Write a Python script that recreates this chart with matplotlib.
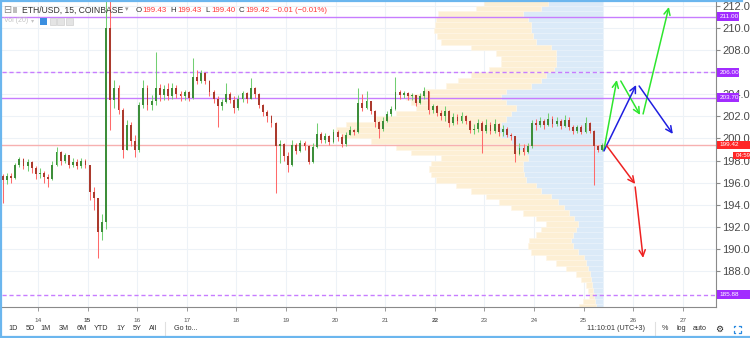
import numpy as np
import matplotlib
matplotlib.use("Agg")
import matplotlib.pyplot as plt
from matplotlib.transforms import blended_transform_factory
from matplotlib.patches import Rectangle
from matplotlib.lines import Line2D

plt.rcParams['font.family'] = ['Liberation Sans', 'DejaVu Sans']

# ---------------- data ----------------
start_day = 13.29          # first 2-hour bar (day of month, Oct)
bar_step = 1 / 12          # 2 hours in days
open_first = 196.6

closes = [196.2, 196.6, 196.4, 197.6, 198.1, 197.5, 197.9, 197.3, 196.8, 196.9,
          196.5, 196.3, 197.6, 198.8, 198.0, 198.5, 197.6, 197.9, 197.5, 198.0,
          197.6, 195.2, 194.6, 191.5, 192.4, 210.0, 203.5, 204.6, 202.6, 199.0,
          201.2, 199.8, 199.0, 203.0, 204.6, 203.0, 203.4, 204.6, 203.9, 204.5,
          203.8, 204.6, 204.0, 203.8, 204.2, 203.7, 205.6, 205.2, 205.9, 205.2,
          204.2, 203.6, 202.9, 203.3, 204.0, 203.5, 202.8, 203.6, 204.1, 203.6,
          204.6, 204.0, 203.0, 202.4, 202.0, 201.4, 199.3, 199.5, 198.4, 197.6,
          199.4, 198.9, 199.6, 199.3, 197.9, 199.2, 200.4, 199.9, 200.2, 199.7,
          200.6, 200.1, 199.5, 200.3, 200.8, 200.6, 203.2, 202.8, 203.4, 202.5,
          201.5, 200.9, 201.6, 202.2, 202.7, 204.2, 203.9, 204.1, 203.8, 203.9,
          203.2, 203.8, 204.3, 202.6, 202.9, 202.3, 202.0, 202.5, 201.4, 201.9,
          201.6, 202.0, 201.6, 200.8, 200.9, 201.4, 200.7, 201.2, 200.7, 201.3,
          200.6, 200.9, 200.3, 200.2, 198.6, 199.1, 198.8, 199.3, 201.4, 201.2,
          201.6, 201.2, 201.8, 201.3, 201.6, 201.1, 201.7, 201.0, 200.7, 201.0,
          200.6, 201.4, 200.7, 199.3, 199.0, 199.42]
highs = [196.8, 196.9, 196.9, 197.8, 198.3, 198.2, 198.1, 198.0, 197.5, 197.3,
         197.1, 196.8, 198.0, 199.2, 198.9, 198.7, 198.4, 198.2, 198.1, 198.2,
         198.1, 197.6, 195.6, 194.6, 193.2, 214.5, 213.5, 205.3, 204.8, 202.8,
         201.7, 201.5, 200.3, 203.3, 205.3, 204.8, 203.9, 207.8, 204.9, 204.8,
         205.0, 205.0, 204.8, 204.3, 204.4, 204.3, 207.3, 206.2, 206.2, 206.0,
         205.3, 204.4, 203.8, 203.6, 205.0, 204.2, 203.8, 203.9, 204.3, 204.2,
         205.5, 204.7, 204.1, 203.1, 202.6, 202.1, 201.5, 199.9, 199.6, 198.8,
         199.9, 199.6, 199.9, 199.8, 199.4, 199.6, 201.4, 200.6, 200.5, 200.3,
         200.9, 200.8, 200.4, 200.6, 201.1, 200.9, 204.6, 204.0, 204.3, 203.4,
         202.6, 201.6, 201.9, 202.5, 202.9, 205.6, 204.4, 204.3, 204.2, 204.1,
         203.9, 204.1, 204.7, 204.3, 203.1, 203.0, 202.6, 202.9, 202.6, 202.3,
         202.2, 202.4, 202.1, 201.7, 201.3, 201.8, 201.6, 201.8, 201.5, 201.8,
         201.4, 201.2, 201.0, 200.5, 200.2, 199.6, 199.5, 199.6, 201.7, 201.8,
         201.9, 201.8, 202.3, 202.0, 201.9, 201.8, 202.1, 201.9, 201.2, 201.2,
         201.2, 201.9, 201.5, 200.8, 199.4, 199.6]
lows = [194.2, 195.9, 196.0, 196.3, 197.4, 197.2, 197.1, 196.9, 196.3, 196.4,
        196.0, 195.6, 196.2, 197.5, 197.6, 197.8, 197.3, 197.4, 197.2, 197.3,
        197.3, 194.4, 193.5, 189.2, 190.8, 191.8, 200.8, 202.8, 202.2, 198.2,
        199.0, 199.3, 198.3, 198.8, 202.8, 202.6, 202.6, 203.0, 203.4, 203.5,
        203.5, 203.6, 203.7, 203.4, 203.5, 203.4, 203.6, 204.9, 205.0, 204.9,
        203.8, 203.2, 201.0, 202.6, 203.2, 203.2, 202.3, 202.6, 203.3, 203.2,
        203.6, 203.7, 202.8, 202.0, 201.5, 201.0, 195.1, 197.8, 198.0, 197.0,
        197.5, 198.6, 198.8, 199.0, 197.7, 197.8, 199.1, 199.6, 199.6, 199.4,
        199.6, 199.8, 199.2, 199.3, 200.3, 200.3, 200.5, 202.5, 202.7, 202.2,
        201.0, 200.0, 200.7, 201.5, 202.0, 202.6, 203.6, 203.7, 203.5, 203.5,
        202.9, 203.1, 203.6, 202.2, 202.3, 202.0, 201.7, 201.6, 201.0, 201.2,
        201.3, 201.4, 201.3, 200.5, 200.4, 200.6, 198.7, 200.5, 200.4, 200.5,
        200.2, 200.2, 200.1, 199.9, 197.9, 198.5, 198.5, 198.7, 199.1, 200.8,
        201.0, 200.9, 201.1, 201.0, 201.1, 200.9, 201.0, 200.8, 200.4, 200.5,
        200.4, 200.5, 200.5, 195.8, 198.8, 198.9]

# visible-range volume profile (rows of 0.5 USD, from top to bottom)
vp_top_price = 212.25
vp_row = 0.5
vp_up = [55, 62, 80, 75, 72, 72, 70, 67, 52, 47,
         47, 47, 49, 57, 62, 72, 97, 102, 97, 87,
         92, 97, 102, 105, 102, 92, 87, 77, 75, 80,
         80, 79, 77, 67, 62, 52, 45, 39, 34, 29,
         25, 27, 30, 32, 30, 25, 19, 17, 15, 13,
         12, 11, 10, 9, 8, 7]
vp_down = [64, 65, 85, 92, 96, 97, 96, 95, 80, 60,
           55, 55, 65, 75, 83, 85, 82, 95, 95, 100,
           115, 130, 155, 162, 160, 140, 120, 115, 87, 92,
           94, 93, 90, 80, 70, 65, 59, 53, 46, 38,
           32, 35, 37, 42, 45, 47, 38, 30, 22, 14,
           10, 6, 5, 5, 12, 17]

level_prices = [211.00, 206.00, 203.70, 185.88]
level_styles = ['-', '--', '-', '--']
last_price = 199.42
countdown = "04:59"

# scenario arrows drawn on chart (day, price)
arrow_colors = ['#2ee62e', '#2ee62e', '#2ee62e', '#1f1fe0', '#1f1fe0', '#ee2222', '#ee2222']
arrow_x0 = [25.41, 25.75, 26.20, 25.41, 26.12, 25.47, 26.04]
arrow_y0 = [198.96, 205.20, 202.22, 198.87, 204.75, 199.32, 195.61]
arrow_x1 = [25.67, 26.14, 26.72, 26.06, 26.80, 26.04, 26.20]
arrow_y1 = [205.29, 202.13, 211.90, 204.84, 200.41, 195.88, 189.19]

day_ticks = list(range(14, 28))
bold_days = [15, 22]
price_ticks = list(range(188, 213, 2))
hidden_price_ticks = [206]      # fully covered by the 206.00 marker

# ---------------- figure ----------------
W, H = 750, 338
fig = plt.figure(figsize=(W / 100, H / 100), dpi=100)
fig.patch.set_facecolor('white')

def fx(px):
    return px / W

def fy(py):
    return 1 - py / H

ax = fig.add_axes([fx(2), fy(307), (716 - 2) / W, (307 - 2) / H])
ax.set_xlim(13.274, 27.67)
ax.set_ylim(184.75, 212.35)
ax.set_facecolor('white')
px_per_price = (307 - 2) / (212.35 - 184.75)

# grid
ax.set_xticks(day_ticks)
ax.set_yticks(price_ticks)
ax.grid(True, color='#edf2f7', lw=0.8, zorder=0)
ax.set_axisbelow(True)

closes_a = np.array(closes)
opens_a = np.concatenate([[open_first], closes_a[:-1]])
highs_a = np.array(highs)
lows_a = np.array(lows)
t = start_day + np.arange(len(closes_a)) * bar_step

# volume profile
up = np.array(vp_up, float)
dn = np.array(vp_down, float)
vp_prices = vp_top_price - np.arange(len(up)) * vp_row
anchor = t[-1] + 0.01
scale = 5.38 / (up + dn).max()
ax.barh(vp_prices, up * scale, left=anchor - up * scale, height=vp_row,
        color='#dbeaf8', edgecolor='#eaf3fb', lw=0.4, zorder=1)
ax.barh(vp_prices, dn * scale, left=anchor - (up + dn) * scale, height=vp_row,
        color='#fdefd4', edgecolor='#fff6e6', lw=0.4, zorder=1)

# horizontal levels
for p, ls in zip(level_prices, level_styles):
    if ls == '--':
        ax.axhline(p, color='#c77dff', lw=1.0, ls='--', dashes=(3, 2), zorder=2)
    else:
        ax.axhline(p, color='#c77dff', lw=1.0, zorder=2)
ax.axhline(last_price, color='#f7b0b0', lw=1.0, zorder=2)

# candles
is_up = closes_a >= opens_a
wick_col = np.where(is_up, '#72cf72', '#ff6a6a')
body_col = np.where(is_up, '#3d8e3a', '#ab3a2d')
ax.vlines(t, lows_a, highs_a, colors=wick_col, lw=0.75, zorder=3)
body_lo = np.minimum(opens_a, closes_a)
body_h = np.maximum(np.abs(closes_a - opens_a), 0.08)
ax.bar(t, body_h, bottom=body_lo, width=bar_step * 0.45, color=body_col, lw=0, zorder=4)

# arrows
for c, x0, y0, x1, y1 in zip(arrow_colors, arrow_x0, arrow_y0, arrow_x1, arrow_y1):
    ax.annotate('', xy=(x1, y1), xytext=(x0, y0),
                arrowprops=dict(arrowstyle='->,head_length=0.45,head_width=0.22',
                                color=c, lw=1.1, shrinkA=0, shrinkB=0),
                zorder=6, annotation_clip=False)

# axes styling
for s in ['top', 'left']:
    ax.spines[s].set_visible(False)
ax.spines['right'].set_color('#8a8a8a')
ax.spines['bottom'].set_color('#8a8a8a')
ax.yaxis.tick_right()
ax.set_yticklabels(["" if p in hidden_price_ticks else f"{p:.1f}" for p in price_ticks])
ax.tick_params(axis='y', length=3, width=0.8, color='#8a8a8a', labelsize=8,
               labelcolor='#4a4a4a', pad=1.5)
ax.tick_params(axis='x', length=3, width=0.6, color='#8a8a8a', labelsize=4.6,
               labelcolor='#555555', pad=5)
ax.set_xticklabels([str(d) for d in day_ticks])
for lab, d in zip(ax.get_xticklabels(), day_ticks):
    if d in bold_days:
        lab.set_fontweight('bold')

# price-axis markers (x in figure pixels, y in price)
bt = blended_transform_factory(fig.transFigure, ax.transData)
def marker(price, x0, x1, hpx, color, text, fs=4.6):
    h = hpx / px_per_price
    fig.add_artist(Rectangle((fx(x0), price - h / 2), (x1 - x0) / W, h, transform=bt,
                             fc=color, ec='none', zorder=5, clip_on=False))
    fig.text(fx(x0 + 2.5), price, text, transform=bt, fontsize=fs, color='white',
             va='center', ha='left', zorder=6)

for p in level_prices[:3]:
    marker(p, 717, 738.5, 9, '#a22cff', f"{p:.2f}")
marker(level_prices[3], 717, 750, 9, '#a22cff', f"{level_prices[3]:.2f}")
marker(last_price, 717, 750, 8.5, '#ff2626', f"{last_price:.2f}")
marker(last_price - 10.5 / px_per_price, 733, 750, 7.5, '#ff2626', countdown, fs=4.3)

# ---------------- header legend ----------------
fig.text(fx(3), fy(10), "⊟", fontsize=7, color='#888888', va='center', ha='left')
fig.add_artist(Rectangle((fx(13), fy(13)), 4 / W, 6 / H, transform=fig.transFigure,
                         fc='#bdbdbd', ec='none'))
fig.text(fx(22), fy(10), "ETH/USD, 15, COINBASE", fontsize=6.2, color='#333333',
         va='center', ha='left')
fig.text(fx(125), fy(10), "▾", fontsize=5, color='#999999', va='center', ha='left')
ohlc = [("O", 136, "199.43", 142.5), ("H", 170.5, "199.43", 177),
        ("L", 205, "199.40", 211), ("C", 238.5, "199.42", 245)]
for k, kx, v, vx in ohlc:
    fig.text(fx(kx), fy(10), k, fontsize=5.7, color='#333333', va='center', ha='left')
    fig.text(fx(vx), fy(10), v, fontsize=5.7, color='#ff3b3b', va='center', ha='left')
fig.text(fx(273), fy(10), "−0.01 (−0.01%)", fontsize=5.7, color='#ff3b3b',
         va='center', ha='left')

fig.text(fx(4), fy(21), "Vol (20)", fontsize=5.0, color='#c4c4c4', va='center', ha='left')
fig.text(fx(31), fy(21), "▾", fontsize=4.5, color='#c4c4c4', va='center', ha='left')
fig.add_artist(Rectangle((fx(40), fy(24.5)), 6.5 / W, 6.5 / H, transform=fig.transFigure,
                         fc='#3b8fe0', ec='none'))
for gx in [49.5, 57.5, 66]:
    fig.add_artist(Rectangle((fx(gx), fy(24.5)), 6.5 / W, 6.5 / H, transform=fig.transFigure,
                             fc='#e4e4e4', ec='#cfcfcf', lw=0.5))

# ---------------- bottom toolbar ----------------
tb_y = fy(329)
for lab, cx in [("1D", 13), ("5D", 30), ("1M", 46), ("3M", 64), ("6M", 82),
                ("YTD", 101), ("1Y", 121), ("5Y", 137), ("All", 153),
                ("Go to...", 186), ("11:10:01 (UTC+3)", 616), ("%", 665),
                ("log", 681), ("auto", 700)]:
    fig.text(fx(cx), tb_y, lab, fontsize=5.2, color='#333333', va='center', ha='center')
fig.text(fx(719), tb_y, "⚙", fontsize=6.5, color='#222222', va='center', ha='center')
# fullscreen icon: four corner brackets (no installed font has the glyph)
cx0, cy0, r, k = 737, 329, 3.5, 1.6
for sx in (-1, 1):
    for sy in (-1, 1):
        xc, yc = cx0 + sx * r, cy0 + sy * r
        fig.add_artist(Line2D([fx(xc - sx * k), fx(xc), fx(xc)],
                              [fy(yc), fy(yc), fy(yc - sy * k)],
                              transform=fig.transFigure, color='#2a8ae0', lw=0.9))
for dx in [165, 655]:
    fig.add_artist(Line2D([fx(dx), fx(dx)], [fy(322), fy(336)], transform=fig.transFigure,
                          color='#e0e0e0', lw=0.8))

# outer frame
for xs, ys in [([0, 742], [1, 1]), ([1, 1], [0, 338]), ([0, 750], [337, 337])]:
    fig.add_artist(Line2D([fx(v) for v in xs], [fy(v) for v in ys], transform=fig.transFigure,
                          color='#6bb6ee', lw=1.6))

fig.savefig("out.png", dpi=100)
